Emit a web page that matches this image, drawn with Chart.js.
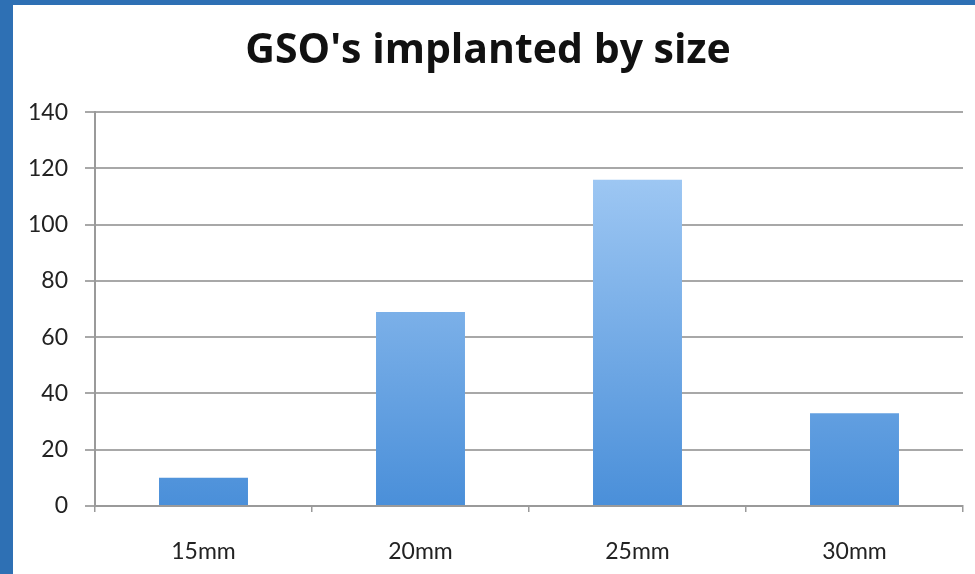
<!DOCTYPE html>
<html>
<head>
<meta charset="utf-8">
<script src="https://cdn.jsdelivr.net/npm/chart.js@4"></script>
<style>
    html, body { margin: 0; padding: 0; }
    body { width: 975px; height: 574px; background: #2e70b4; position: relative; overflow: hidden; }
    #frame { position: absolute; left: 13px; top: 5px; width: 962px; height: 569px; background: #fff; }
</style>
</head>
<body>
<div id="frame"><canvas id="sizeChart" width="962" height="569"></canvas></div>
<script>
const sizes = ['15mm', '20mm', '25mm', '30mm'];
const implanted = [10, 69, 116, 33];
const yTicks = [0, 20, 40, 60, 80, 100, 120, 140];

// light at the top, darker blue at the bottom like the original bars
function barGradient(context) {
    const chart = context.chart;
    const area = chart.chartArea;
    if (!area) return '#7fb2e8';
    const g = chart.ctx.createLinearGradient(0, area.top, 0, area.bottom);
    g.addColorStop(0, '#aed2f8');
    g.addColorStop(1, '#4a8fd9');
    return g;
}

const ctx = document.getElementById('sizeChart');
new Chart(ctx, {
    type: 'bar',
    data: {
        labels: sizes,
        datasets: [{
            label: "GSO's implanted",
            data: implanted,
            backgroundColor: barGradient,
            borderWidth: 0,
            categoryPercentage: 0.41,
            barPercentage: 1
        }]
    },
    options: {
        responsive: false,
        animation: false,
        layout: { padding: { left: 0, right: 12, top: 0, bottom: 0 } },
        plugins: {
            legend: { display: false },
            tooltip: { enabled: false },
            title: {
                display: true,
                text: "GSO's implanted by size",
                color: '#111',
                font: { family: 'Open Sans', size: 41, weight: 'bold', lineHeight: 1.2 },
                padding: { top: 22, bottom: 36 }
            }
        },
        scales: {
            x: {
                grid: {
                    offset: true,
                    drawOnChartArea: false,
                    drawTicks: true,
                    tickLength: 6,
                    color: '#9a9a9a',
                    lineWidth: 1.5
                },
                border: { display: true, color: '#9a9a9a', width: 2 },
                ticks: {
                    color: '#222',
                    font: { family: 'Lato', size: 23 },
                    padding: 26
                },
                afterFit: (scale) => { scale.height = 68; }
            },
            y: {
                min: 0,
                max: 140,
                afterBuildTicks: (scale) => { scale.ticks = yTicks.map(v => ({ value: v })); },
                grid: {
                    color: '#a8a8a8',
                    lineWidth: 2,
                    tickLength: 10
                },
                border: { display: true, color: '#9a9a9a', width: 2 },
                ticks: {
                    color: '#222',
                    font: { family: 'Lato', size: 23 },
                    padding: 17
                },
                afterFit: (scale) => { scale.width = 82; }
            }
        }
    }
});
</script>
</body>
</html>
